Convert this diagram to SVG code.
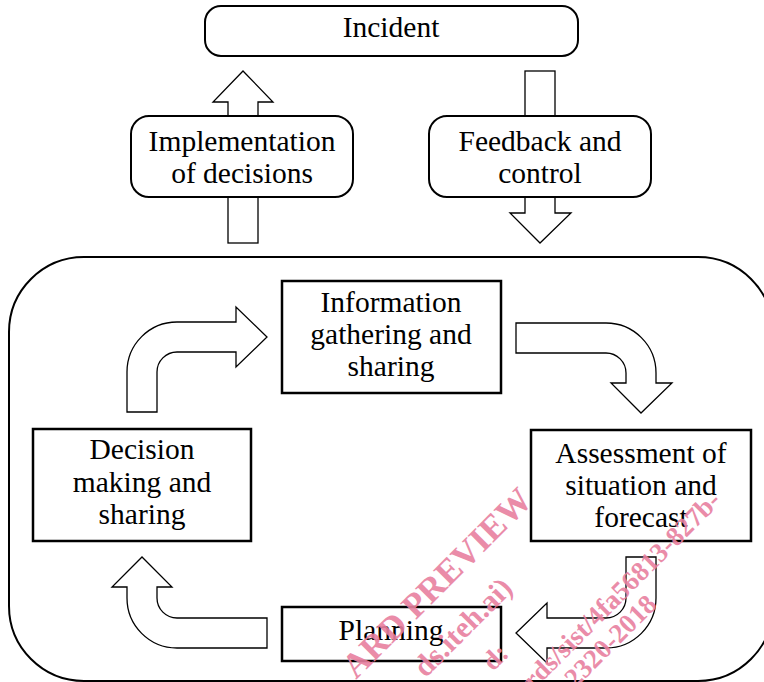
<svg xmlns="http://www.w3.org/2000/svg" width="764" height="682" viewBox="0 0 764 682">
<style>
.box{fill:#fff;stroke:#000;stroke-width:2.5}
.rbox{fill:#fff;stroke:#000;stroke-width:2}
.arr{fill:#fff;stroke:#000;stroke-width:1.3;stroke-linejoin:miter}
.t{font-family:"Liberation Serif","Times New Roman",serif;font-size:29.5px;fill:#000;text-anchor:middle}
.wm{font-family:"Liberation Serif","Times New Roman",serif;font-weight:bold;fill:#e8809f;text-anchor:end}
</style>
<rect width="764" height="682" fill="#fff"/>
<g id="system">
<rect x="9" y="257" width="764" height="424" rx="75" ry="75" fill="none" stroke="#000" stroke-width="2"/>
</g>
<g id="connectors">
<path class="arr" d="M228,116 L228,102 L213,102 L243,71 L273,102 L258,102 L258,116 Z"/>
<rect class="arr" x="228" y="197" width="30" height="46"/>
<rect class="arr" x="525" y="71" width="30" height="45"/>
<path class="arr" d="M525,197 L525,213 L510,213 L540,243 L571,213 L555,213 L555,197 Z"/>
<path class="arr" d="M127,412 L127,372 A50,50 0 0 1 177,322 L236,322 L236,307 L267,337 L236,367 L236,352 L177,352 A20,20 0 0 0 157,372 L157,412 Z"/>
<path class="arr" d="M516,323 L606,323 A50,50 0 0 1 656,373 L656,383 L672,383 L641,413 L611,383 L626,383 L626,373 A20,20 0 0 0 606,353 L516,353 Z"/>
<path class="arr" d="M626,557 L656,557 L656,598 A50,50 0 0 1 606,648 L547,648 L547,663 L516,633 L547,603 L547,618 L606,618 A20,20 0 0 0 626,598 Z"/>
<path class="arr" d="M267,618 L267,648 L177,648 A50,50 0 0 1 127,598 L127,587 L112,587 L142,557 L172,587 L157,587 L157,598 A20,20 0 0 0 177,618 Z"/>
</g>
<g id="incident">
<rect class="rbox" x="205" y="6" width="373" height="50" rx="16" ry="16"/>
<text class="t" x="391" y="37">Incident</text>
</g>
<g id="implementation">
<rect class="rbox" x="131" y="116" width="222" height="81" rx="18" ry="18"/>
<text class="t" x="242" y="151">Implementation</text>
<text class="t" x="242" y="183">of decisions</text>
</g>
<g id="feedback">
<rect class="rbox" x="429" y="116" width="222" height="81" rx="18" ry="18"/>
<text class="t" x="540" y="151">Feedback and</text>
<text class="t" x="540" y="183">control</text>
</g>
<g id="information">
<rect class="box" x="282" y="281" width="219" height="112"/>
<text class="t" x="391" y="312">Information</text>
<text class="t" x="391" y="344">gathering and</text>
<text class="t" x="391" y="376">sharing</text>
</g>
<g id="assessment">
<rect class="box" x="531" y="430" width="220" height="111"/>
<text class="t" x="641" y="463">Assessment of</text>
<text class="t" x="641" y="495">situation and</text>
<text class="t" x="641" y="527">forecast</text>
</g>
<g id="decision">
<rect class="box" x="33" y="429" width="218" height="112"/>
<text class="t" x="142" y="459">Decision</text>
<text class="t" x="142" y="492">making and</text>
<text class="t" x="142" y="524">sharing</text>
</g>
<g id="planning">
<rect class="box" x="282" y="607" width="219" height="54"/>
<text class="t" x="391" y="640">Planning</text>
</g>
<g id="watermark" opacity="0.9">
<text class="wm" font-size="35" x="534" y="502" transform="rotate(-45 534 502)">ARD PREVIEW</text>
<text class="wm" font-size="30" x="514" y="590" transform="rotate(-45 514 590)">ds.iteh.ai)</text>
<text class="wm" font-size="27" x="510" y="655" transform="rotate(-45 510 655)">d:</text>
<text class="wm" font-size="27" x="722" y="502" transform="rotate(-45 722 502)">rds/sist/4fa56813-827b-</text>
<text class="wm" font-size="27" x="658" y="606" transform="rotate(-45 658 606)">2320-2018</text>
</g>
</svg>
